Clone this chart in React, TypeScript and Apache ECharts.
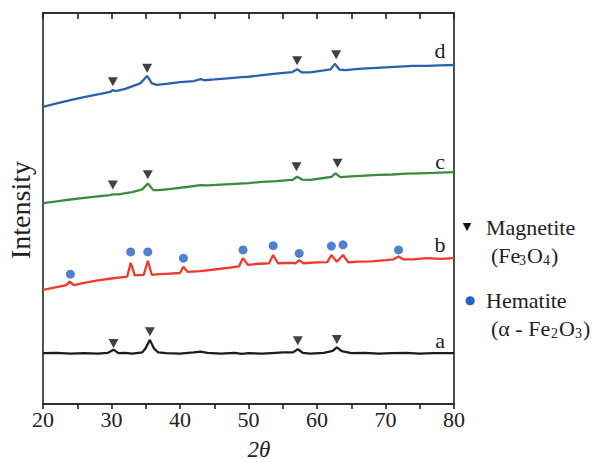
import React, { useEffect, useRef } from "react";
import * as echarts from "echarts";

const curveA: [number, number][] = [[20,13.0],[22,13.1],[24,12.9],[26,13.0],[28,12.9],[29.5,13.1],[30.3,13.9],[31,13.0],[32,13.1],[33,12.9],[34.5,13.2],[35.0,14.3],[35.6,16.4],[36.2,14.2],[36.8,13.2],[38,13.0],[40,12.9],[42,13.2],[43,13.4],[44,13.1],[46,12.9],[48,13.1],[49,12.8],[50,13.0],[52,12.9],[54,13.1],[55,13.2],[56.5,13.2],[57.2,14.0],[57.9,13.1],[59,12.9],[61,13.1],[62.3,13.6],[62.9,14.5],[63.6,13.5],[65,13.0],[67,13.1],[69,12.9],[71,13.0],[73,13.1],[75,12.9],[77,13.0],[80,13.0]];
const curveB: [number, number][] = [[20,29.2],[22,29.9],[23.4,30.4],[23.9,31.3],[24.5,30.4],[26,31.0],[28,31.6],[30,32.1],[32.3,32.6],[32.8,36.1],[33.4,32.9],[34.7,33.0],[35.3,36.6],[35.9,33.0],[37,33.2],[38,33.3],[40.0,33.5],[40.5,35.1],[41.1,33.8],[43,34.0],[45,34.4],[47,34.8],[48.6,35.2],[49.2,37.3],[49.9,35.6],[51,35.8],[53.0,36.0],[53.6,38.1],[54.3,36.0],[56,36.1],[56.9,36.0],[57.4,36.8],[58,36.0],[60,36.2],[61.5,36.3],[62.1,38.1],[62.9,36.4],[63.8,38.1],[64.6,36.2],[66,36.4],[68,36.5],[70,36.8],[71.2,37.0],[71.9,37.7],[72.6,37.0],[74,37.0],[76,37.3],[78,37.1],[80,37.3]];
const curveC: [number, number][] = [[20,51.4],[22,51.8],[24,52.3],[26,52.7],[28,53.1],[29.8,53.4],[30.2,53.6],[31,53.6],[33,54.2],[34.5,54.9],[35.3,56.4],[36.1,54.7],[37,54.7],[39,55.1],[41,55.5],[43,56.0],[44,55.9],[46,56.1],[48,56.3],[50,56.5],[52,56.8],[54,57.0],[56.4,57.3],[57.1,58.1],[57.8,57.4],[59,57.3],[61,57.8],[62.1,58.1],[62.7,59.0],[63.4,58.0],[65,58.2],[67,58.4],[69,58.6],[71,58.7],[73,58.9],[75,59.0],[77,59.1],[80,59.3]];
const curveD: [number, number][] = [[20,76.0],[22,76.9],[24,77.7],[26,78.5],[28,79.2],[29.8,79.8],[30.2,80.3],[30.6,80.0],[32,80.6],[34.2,82.0],[35.2,83.9],[35.9,82.0],[36.6,81.6],[38,81.9],[40,82.3],[42,82.6],[43,83.1],[43.6,82.8],[45,83.0],[47,83.3],[49,83.6],[50,83.7],[52,84.1],[54,84.5],[56.4,84.9],[57.1,85.6],[57.8,84.8],[59,84.8],[61,85.3],[62,85.6],[62.6,87.0],[63.3,85.5],[64.2,85.4],[66,85.7],[68,85.9],[70,86.1],[72,86.3],[74,86.5],[76,86.5],[78,86.6],[80,86.7]];

const magnetiteMarks: [number, number][] = [
  [30.3,15.5],[35.6,18.5],[57.2,16.2],[62.9,16.5],
  [30.2,56.0],[35.3,58.6],[57.0,60.7],[63.0,61.6],
  [30.2,82.4],[35.2,85.9],[57.1,87.8],[62.8,89.3],
];
const hematiteMarks: [number, number][] = [
  [24.0,33.2],[32.8,38.9],[35.3,38.9],[40.5,37.3],[49.2,39.4],[53.6,40.5],[57.4,38.5],[62.1,40.4],[63.8,40.7],[71.9,39.4],
];
const curveNames = ["a", "b", "c", "d"];
const xTicks = [20, 30, 40, 50, 60, 70, 80];

const SERIF = "Liberation Serif";
const INK = "#222";
const AXIS = "#222";

export default function App() {
  const ref = useRef<HTMLDivElement>(null);
  useEffect(() => {
    if (!ref.current) return;
    const chart = echarts.init(ref.current, undefined, { renderer: "svg" });
    const lineSeries = (data: [number, number][], color: string) => ({
      type: "line",
      data,
      showSymbol: false,
      lineStyle: { color, width: 2.3 },
    });
    const txt = (x: number, y: number, text: string, size: number, align: string = "left", color: string = INK, family: string = SERIF, extra: any = {}) => ({
      type: "text",
      x,
      y,
      ...extra,
      style: { text, fontFamily: family, fontSize: size, fill: color, align, verticalAlign: "middle", ...(extra.style || {}) },
    });
    chart.setOption({
      animation: false,
      backgroundColor: "#fff",
      grid: { left: 43, right: 141, top: 13, bottom: 59, show: true, borderColor: AXIS, borderWidth: 1.6 },
      xAxis: [
        {
          type: "value",
          min: xTicks[0],
          max: xTicks[xTicks.length - 1],
          interval: 5,
          axisLine: { show: true, onZero: false, lineStyle: { color: AXIS, width: 1.6 } },
          axisTick: { show: true, inside: false, length: 5, lineStyle: { color: AXIS, width: 1.6 } },
          splitLine: { show: false },
          axisLabel: {
            fontFamily: SERIF,
            fontSize: 22,
            color: INK,
            margin: 4,
            formatter: (v: number) => (xTicks.indexOf(v) >= 0 ? String(v) : ""),
          },
        },
        {
          type: "value",
          min: xTicks[0],
          max: xTicks[xTicks.length - 1],
          interval: 5,
          position: "top",
          axisLine: { show: true, onZero: false, lineStyle: { color: AXIS, width: 1.6 } },
          axisTick: { show: true, inside: true, length: 6, lineStyle: { color: AXIS, width: 1.6 } },
          splitLine: { show: false },
          axisLabel: { show: false },
        },
      ],
      yAxis: {
        type: "value",
        min: 0,
        max: 100,
        axisTick: { show: false },
        splitLine: { show: false },
        axisLabel: { show: false },
      },
      series: [
        lineSeries(curveA, "#1c1c1c"),
        lineSeries(curveB, "#ee3a2c"),
        lineSeries(curveC, "#3a8c3c"),
        lineSeries(curveD, "#2b62ad"),
        {
          type: "scatter",
          data: magnetiteMarks,
          symbol: "triangle",
          symbolRotate: 180,
          symbolSize: [10, 9],
          itemStyle: { color: "#111" },
        },
        {
          type: "scatter",
          data: hematiteMarks,
          symbol: "circle",
          symbolSize: 9,
          itemStyle: { color: "#2462c4" },
        },
      ],
      graphic: [
        txt(440, 340, curveNames[0], 22, "center"),
        txt(440, 244, curveNames[1], 22, "center"),
        txt(440, 161, curveNames[2], 22, "center"),
        txt(440, 50, curveNames[3], 22, "center"),
        txt(20, 210, "Intensity", 28, "center", INK, SERIF, { rotation: Math.PI / 2 }),
        txt(259, 449, "2θ", 23, "center", INK, SERIF, { style: { fontStyle: "italic" } }),
        txt(467, 226, "▼", 11, "center", "#111", "DejaVu Sans"),
        txt(486, 227, "Magnetite", 22),
        txt(491, 255, "(Fe", 22),
        txt(519, 260, "3", 14),
        txt(527, 255, "O", 22),
        txt(543, 260, "4", 14),
        txt(551, 255, ")", 22),
        txt(470, 300, "●", 12, "center", "#2462c4", "DejaVu Sans"),
        txt(486, 300, "Hematite", 22),
        txt(491, 328, "(α - Fe", 22),
        txt(551, 333, "2", 14),
        txt(559, 328, "O", 22),
        txt(575, 333, "3", 14),
        txt(583, 328, ")", 22),
      ],
    });
    return () => chart.dispose();
  }, []);
  return <div ref={ref} style={{ width: 595, height: 463, position: "absolute", left: 0, top: 0 }} />;
}
